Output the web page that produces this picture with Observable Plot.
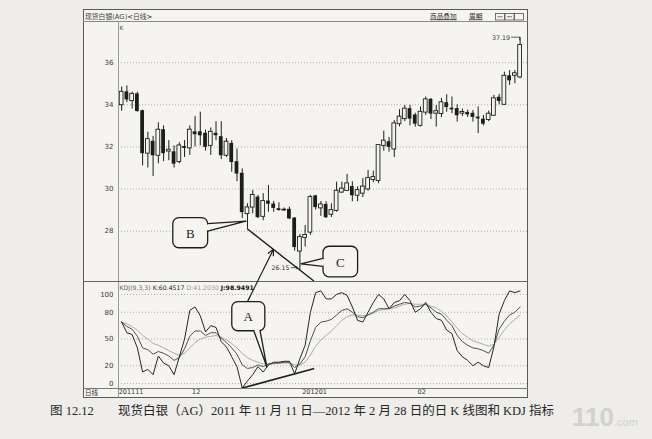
<!DOCTYPE html>
<html>
<head>
<meta charset="utf-8">
<script src="https://cdn.jsdelivr.net/npm/d3@7"></script>
<script src="https://cdn.jsdelivr.net/npm/@observablehq/plot@0.6"></script>
<style>
  html, body { margin: 0; padding: 0; background: #eeede9; }
  #page { position: relative; width: 652px; height: 439px; overflow: hidden; background: #eeede9; }
  #frame { position: absolute; left: 83px; top: 9px; width: 445px; height: 389px; background: #f5f4f0; }
  .panel { position: absolute; left: 83px; }
  #overlay { position: absolute; left: 0; top: 0; }
  #caption { position: absolute; left: 0; top: 403px; width: 652px; height: 18px;
             font-family: "Liberation Serif", "Noto Sans CJK SC", serif; font-size: 12.5px;
             line-height: 16px; color: #262626; white-space: nowrap; }
  #caption span { position: absolute; top: 0; }
  #stamp { position: absolute; left: 572px; top: 403px; white-space: nowrap; line-height: 28px;
           font-family: "Liberation Sans", sans-serif; color: #d2d1cd; }
</style>
</head>
<body>
<div id="page">
  <div id="frame"></div>
  <div id="pricePanel" class="panel" style="top:22px"></div>
  <div id="kdjPanel" class="panel" style="top:282px"></div>
  <svg id="overlay" width="652" height="439"></svg>
  <div id="caption"><span style="left:50px">图 12.12</span><span style="left:118px">现货白银（AG）2011 年 11 月 11 日—2012 年 2 月 28 日的日 K 线图和 KDJ 指标</span></div>
  <div id="stamp"><span style="font-size:26px;font-weight:bold">110</span><span style="font-size:11px">.com</span></div>
</div>
<script>
// Daily candles, 2011-11-11 .. 2012-02-28 (trading-day index 0..76)
const opens  = [34.0, 34.6, 34.2, 34.5, 33.7, 31.7, 32.25, 31.6, 32.8, 31.8,
                31.75, 31.3, 32.0, 31.95, 32.7, 32.7, 32.63, 32.07, 32.63, 32.47,
                31.6, 32.15, 31.28, 30.73, 28.83, 29.14, 29.6, 28.7, 29.41, 29.27,
                29.05, 29.0, 29.02, 28.6, 27.05, 27.7, 27.95, 29.66, 29.1, 29.25,
                28.8, 28.98, 29.85, 29.93, 30.1, 29.7, 29.8, 30.0, 30.45, 30.4,
                32.07, 32.23, 31.9, 33.1, 33.34, 33.8, 33.5, 33.02, 33.65, 34.24,
                33.6, 33.58, 34.08, 33.82, 33.8, 33.6, 33.62, 33.58, 33.4, 33.3,
                33.3, 33.5, 34.34, 34.02, 35.36, 35.4, 35.32];
const highs  = [34.85, 34.9, 34.6, 34.6, 33.75, 32.7, 32.5, 33.15, 33.0, 32.3,
                32.05, 32.2, 32.3, 33.0, 33.45, 33.65, 32.8, 32.9, 33.2, 33.2,
                32.4, 32.3, 31.9, 30.96, 29.3, 29.93, 29.7, 29.78, 30.17, 29.41,
                29.35, 29.1, 29.14, 28.65, 27.85, 28.27, 29.7, 29.7, 29.41, 29.4,
                29.3, 30.33, 30.33, 30.7, 30.35, 30.1, 30.5, 30.88, 30.85, 32.1,
                32.75, 32.45, 33.25, 33.77, 33.97, 33.97, 33.6, 33.9, 34.37, 34.3,
                33.97, 34.3, 34.48, 34.37, 34.0, 33.8, 33.75, 33.73, 33.9, 33.5,
                33.7, 34.45, 34.5, 35.55, 35.63, 35.63, 37.19];
const lows   = [33.7, 34.1, 33.8, 33.65, 31.1, 31.0, 30.6, 31.2, 31.3, 31.35,
                31.0, 31.2, 31.5, 31.6, 32.0, 32.05, 31.8, 31.6, 32.3, 31.4,
                31.5, 30.8, 30.35, 28.6, 28.1, 28.83, 28.6, 28.5, 28.9, 28.9,
                28.95, 28.95, 28.55, 27.05, 26.15, 27.24, 27.8, 29.0, 28.7, 28.6,
                28.65, 28.9, 29.8, 29.9, 29.4, 29.4, 29.6, 29.9, 30.3, 30.25,
                31.8, 31.75, 31.5, 32.95, 33.2, 33.0, 32.94, 32.95, 33.5, 33.3,
                32.94, 33.4, 33.65, 33.58, 33.18, 33.45, 33.4, 33.18, 32.63, 33.0,
                33.2, 33.45, 34.0, 33.97, 34.92, 35.0, 35.24];
const closes = [34.6, 34.25, 34.5, 33.7, 31.7, 32.35, 31.6, 32.8, 31.7, 31.85,
                31.2, 32.05, 31.95, 32.8, 32.6, 32.55, 32.0, 32.7, 32.55, 31.6,
                32.23, 31.28, 30.73, 28.9, 29.11, 29.7, 28.66, 29.41, 29.3, 29.1,
                29.0, 29.0, 28.6, 27.24, 27.7, 27.8, 29.6, 29.14, 29.25, 28.66,
                28.98, 29.9, 30.0, 30.25, 29.7, 29.93, 30.1, 30.5, 30.55, 32.07,
                32.28, 32.0, 33.1, 33.42, 33.8, 33.34, 33.1, 33.65, 34.24, 33.58,
                33.68, 34.1, 33.89, 33.78, 33.5, 33.64, 33.54, 33.42, 33.35, 33.1,
                33.56, 34.29, 34.18, 35.36, 35.16, 35.48, 36.82];

// KDJ(9,3,3) per trading day
const kValues = [69, 64, 61, 53, 40, 38, 33, 36, 34, 31,
                 26, 29, 39, 53, 59, 59, 54, 57, 57, 51,
                 46, 40, 33, 21, 17, 18, 21, 19, 22, 23,
                 23, 24, 24, 18, 22, 30, 48, 63, 69, 70,
                 72, 77, 82, 84, 80, 75, 74, 77, 80, 84,
                 84, 84, 87, 89, 91, 90, 86, 87, 89, 85,
                 80, 78, 71, 65, 54, 47, 43, 40, 39, 37,
                 34, 43, 61, 70, 77, 80, 86];
const dValues = [69, 67, 64, 60, 54, 50, 45, 43, 40, 37,
                 34, 32, 34, 40, 46, 50, 52, 53, 54, 52,
                 49, 45, 40, 34, 29, 26, 24, 22, 22, 22,
                 23, 23, 23, 21, 21, 24, 32, 42, 49, 54,
                 59, 65, 71, 75, 77, 77, 76, 77, 79, 82,
                 83, 84, 85, 87, 89, 90, 89, 89, 89, 87,
                 85, 81, 76, 69, 62, 56, 52, 48, 46, 44,
                 42, 44, 52, 60, 67, 72, 77];
const jValues = [69, 57, 55, 40, 13, 16, 10, 31, 23, 20,
                 10, 30, 50, 82, 86, 76, 58, 65, 63, 47,
                 41, 30, 19, -5, 3, 10, 19, 13, 21, 24,
                 24, 25, 25, 11, 28, 43, 80, 102, 104, 95,
                 95, 100, 102, 99, 86, 71, 69, 80, 91, 100,
                 95, 84, 91, 93, 100, 93, 80, 84, 91, 80,
                 73, 71, 60, 56, 37, 30, 26, 20, 24, 20,
                 18, 41, 78, 93, 104, 102, 104];

const priceTicks = [28, 30, 32, 34, 36];
const kdjTicks = [0, 20, 50, 80, 100];
const monthStarts = [0, 14, 35, 57];
const monthLabels = ["201111", "12", "201201", "02"];
const highLabel = "37.19";
const lowLabel = "26.15";
const kdjHeader = {name: "KDJ(9,3,3)", k: "K:60.4517", d: "D:41.2030", j: "J:98.9491"};

// ---- derived tables ----
const candles = opens.map((o, i) => ({i, o, h: highs[i], l: lows[i], c: closes[i]}));
const ups = candles.filter(d => d.c >= d.o);
const downs = candles.filter(d => d.c < d.o);
const kdjRows = kValues.map((k, i) => ({i, k, d: dValues[i], j: jValues[i]}));

// divergence: price lows at B and C, J lows under them, drawn out to the same end index
const bIdx = 24, cIdx = 34, jFirst = 23, jSecond = 33, trendEnd = 36.6;
const priceSlope = (lows[cIdx] - lows[bIdx]) / (cIdx - bIdx);
const priceAt = i => lows[bIdx] + priceSlope * (i - bIdx);
const priceTrend = [{i: bIdx, v: lows[bIdx]}, {i: trendEnd, v: priceAt(trendEnd)}];
const jSlope = (jValues[jSecond] - jValues[jFirst]) / (jSecond - jFirst);
const kdjTrend = [{i: jFirst, v: jValues[jFirst]}, {i: trendEnd, v: jValues[jFirst] + jSlope * (trendEnd - jFirst)}];

const paper = "#f5f4f0", ink = "#1d1d1d";
const xDomain = [-0.6, 77.6];
const bodyHalf = 0.36;
const common = {
  width: 445, marginLeft: 35, marginRight: 0, marginTop: 0,
  style: {background: "transparent", fontFamily: "'DejaVu Sans', sans-serif", fontSize: "7px", color: "#3a3a3a", overflow: "visible"}
};
const grid = {stroke: "#9c9c9c", strokeWidth: 0.8, strokeDasharray: "1,2"};

const pricePlot = Plot.plot({
  ...common, height: 259, marginBottom: 0,
  x: {domain: xDomain, axis: null},
  y: {domain: [25.61, 37.91], ticks: priceTicks, tickSize: 0, tickPadding: 5, label: null},
  marks: [
    Plot.ruleY(priceTicks, grid),
    Plot.ruleX(candles, {x: "i", y1: "l", y2: "h", stroke: ink, strokeWidth: 1}),
    Plot.rect(downs, {x1: d => d.i - bodyHalf, x2: d => d.i + bodyHalf, y1: "o", y2: "c",
                      fill: ink, insetTop: -0.4, insetBottom: -0.4}),
    Plot.rect(ups, {x1: d => d.i - bodyHalf, x2: d => d.i + bodyHalf, y1: "o", y2: "c",
                    fill: paper, stroke: ink, strokeWidth: 0.9, insetTop: -0.4, insetBottom: -0.4}),
    Plot.line(priceTrend, {x: "i", y: "v", stroke: ink, strokeWidth: 1.4})
  ]
});
document.getElementById("pricePanel").append(pricePlot);

const kdjPlot = Plot.plot({
  ...common, height: 115, marginBottom: 9,
  x: {domain: xDomain, axis: null},
  y: {domain: [-5.5, 113.4], ticks: kdjTicks, tickSize: 0, tickPadding: 5, label: null},
  marks: [
    Plot.ruleY(kdjTicks, grid),
    Plot.line(kdjRows, {x: "i", y: "d", stroke: "#ababab", strokeWidth: 1}),
    Plot.line(kdjRows, {x: "i", y: "k", stroke: "#505050", strokeWidth: 1}),
    Plot.line(kdjRows, {x: "i", y: "j", stroke: "#262626", strokeWidth: 1}),
    Plot.line(kdjTrend, {x: "i", y: "v", stroke: ink, strokeWidth: 1.6}),
    Plot.text(monthStarts, {x: d => d, text: (d, i) => monthLabels[i], frameAnchor: "bottom",
                            dy: 5, dx: -3, textAnchor: "start", fontSize: 6.5, fill: "#333"})
  ]
});
document.getElementById("kdjPanel").append(kdjPlot);

// ---- page-space helpers built on the plots' own scales ----
const xs = pricePlot.scale("x"), ys = pricePlot.scale("y"), ks = kdjPlot.scale("y");
const X = v => 83 + xs.apply(v);
const YP = v => 22 + ys.apply(v);
const YK = v => 282 + ks.apply(v);

const ov = d3.select("#overlay");
function seg(x1, y1, x2, y2, stroke, w) {
  ov.append("line").attr("x1", x1).attr("y1", y1).attr("x2", x2).attr("y2", y2)
    .attr("stroke", stroke).attr("stroke-width", w);
}
function label(x, y, s, size, opts = {}) {
  return ov.append("text").attr("x", x).attr("y", y).attr("font-size", size)
    .attr("font-family", opts.family || "'DejaVu Sans', 'Noto Sans CJK SC', sans-serif")
    .attr("fill", opts.fill || "#333").attr("text-anchor", opts.anchor || "start")
    .attr("dominant-baseline", opts.baseline || "auto").text(s);
}

// chart frame, header bar and panel separators
ov.append("rect").attr("x", 83.5).attr("y", 9.5).attr("width", 444).attr("height", 388)
  .attr("fill", "none").attr("stroke", "#5a5a5a").attr("stroke-width", 1);
seg(83, 21.5, 528, 21.5, "#8a8a8a", 1);
seg(118.5, 21.5, 118.5, 397.5, "#9a9a9a", 1);
seg(83, 281.5, 528, 281.5, "#666", 1);
seg(83, 388.5, 528, 388.5, "#7a7a7a", 1);

label(85, 18.5, "现货白银(AG)<日线>", 6.8, {fill: "#3a3a3a"});
label(430, 18.5, "商品叠加", 6.7, {fill: "#2a2a2a"}).attr("text-decoration", "underline");
label(469, 18.5, "周期", 6.7, {fill: "#2a2a2a"}).attr("text-decoration", "underline");
[495.5, 505, 514.5].forEach((bx, n) => {
  ov.append("rect").attr("x", bx).attr("y", 13.5).attr("width", 9).attr("height", 6.5)
    .attr("fill", "none").attr("stroke", "#555").attr("stroke-width", 0.8);
  if (n < 2) seg(bx + 2, 16.75, bx + 7, 16.75, "#555", 0.8);
});
label(119.5, 30, "K", 6, {fill: "#555"});
label(85, 395, "日线", 6.5, {fill: "#333"});

// KDJ readout
const hdr = ov.append("text").attr("x", 119.5).attr("y", 289.5).attr("font-size", 6.2)
  .attr("font-family", "'DejaVu Sans', sans-serif");
hdr.append("tspan").attr("fill", "#666").text(kdjHeader.name + " ");
hdr.append("tspan").attr("fill", "#222").text(kdjHeader.k + " ");
hdr.append("tspan").attr("fill", "#9a9a9a").text(kdjHeader.d + " ");
hdr.append("tspan").attr("fill", "#111").attr("font-weight", "bold").text(kdjHeader.j);

// extreme price markers
const last = candles.length - 1;
const hiY = YP(highs[last]);
label(X(last) - 9.5, hiY, highLabel, 6.3, {anchor: "end", baseline: "central", fill: "#333"});
seg(X(last) - 8.5, hiY, X(last), hiY, "#333", 0.8);
seg(X(last), hiY - 0.4, X(last), hiY + 3, "#333", 0.8);
const loY = YP(lows[cIdx]) - 2;
label(X(cIdx) - 10, loY, lowLabel, 6.3, {anchor: "end", baseline: "central", fill: "#333"});
seg(X(cIdx) - 8.5, loY, X(cIdx) - 1.5, loY, "#333", 0.8);
seg(X(cIdx) - 1.5, loY, X(cIdx) - 3.5, loY - 1.5, "#333", 0.8);
seg(X(cIdx) - 1.5, loY, X(cIdx) - 3.5, loY + 1.5, "#333", 0.8);

// callout bubbles
function bubble(b) {
  const x1 = X(b.x[0]), x2 = X(b.x[1]);
  const top = Math.min(b.y(b.v[0]), b.y(b.v[1])), bottom = Math.max(b.y(b.v[0]), b.y(b.v[1]));
  ov.append("rect").attr("x", x1).attr("y", top).attr("width", x2 - x1).attr("height", bottom - top)
    .attr("rx", 6).attr("ry", 6).attr("fill", paper).attr("stroke", ink).attr("stroke-width", 1.3);
  const p1 = b.base1, p2 = b.base2, t = b.tip;
  ov.append("path").attr("d", `M${p1[0]},${p1[1]}L${t[0]},${t[1]}L${p2[0]},${p2[1]}`)
    .attr("fill", paper).attr("stroke", ink).attr("stroke-width", 1.3).attr("stroke-linejoin", "round");
  const dx = p2[0] - p1[0], dy = p2[1] - p1[1], len = Math.hypot(dx, dy), ux = dx / len, uy = dy / len;
  seg(p1[0] + ux * 1, p1[1] + uy * 1, p2[0] - ux * 1, p2[1] - uy * 1, paper, 2.6);
  label((x1 + x2) / 2, (top + bottom) / 2 + 0.5, b.text, 13,
        {anchor: "middle", baseline: "central", family: "'Liberation Serif', serif", fill: ink});
  return {x1, x2, top, bottom};
}

bubble({text: "B", x: [9.85, 16.5], v: [28.62, 27.19], y: YP,
        base1: [X(16.5), YP(28.33)], base2: [X(16.5), YP(27.98)], tip: [X(23.8), YP(28.45)]});
bubble({text: "C", x: [38.5, 45.1], v: [27.26, 25.81], y: YP,
        base1: [X(38.5), YP(26.68)], base2: [X(38.5), YP(26.3)], tip: [X(34.3), YP(26.42)]});
const a = bubble({text: "A", x: [21.1, 27.4], v: [91.4, 58.7], y: YK,
        base1: [X(25.3), YK(58.7)], base2: [X(26.5), YK(58.7)], tip: [X(27.8), YK(18)]});

// pointer from A up to the price divergence line
const ax = X(24.1), ay = a.top, tx = X(29.05), ty = YP(priceAt(29.05));
seg(ax, ay, tx, ty, ink, 1.2);
const ang = Math.atan2(ay - ty, ax - tx);
[0.45, -0.45].forEach(da => seg(tx, ty, tx + 7 * Math.cos(ang + da), ty + 7 * Math.sin(ang + da), ink, 1.2));
</script>
</body>
</html>
